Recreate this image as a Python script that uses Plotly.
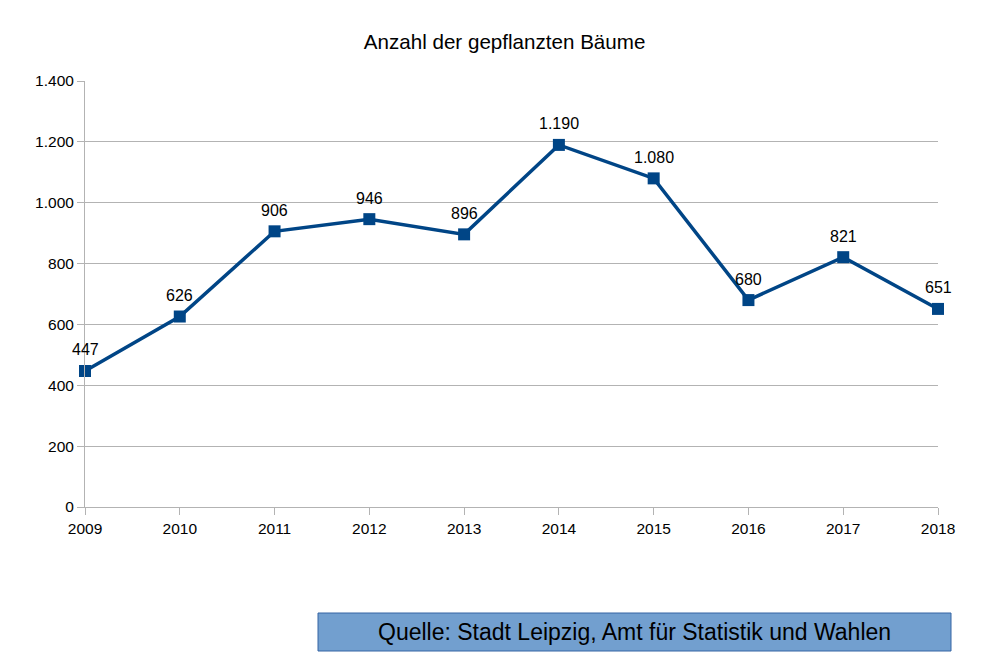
import plotly.graph_objects as go

years = [2009, 2010, 2011, 2012, 2013, 2014, 2015, 2016, 2017, 2018]
trees = [447, 626, 906, 946, 896, 1190, 1080, 680, 821, 651]
title = "Anzahl der gepflanzten Bäume"
source = "Quelle: Stadt Leipzig, Amt für Statistik und Wahlen"

FONT = "Liberation Sans, Arial, sans-serif"
COLOR = "#004586"

fig = go.Figure()
fig.add_trace(go.Scatter(
    x=years, y=trees, mode="lines+markers",
    line=dict(color=COLOR, width=3.5),
    marker=dict(symbol="square", size=12, color=COLOR),
    cliponaxis=False, showlegend=False,
))

for xv, yv in zip(years, trees):
    fig.add_annotation(x=xv, y=yv, text=f"{yv:,}".replace(",", "."),
                       showarrow=False, yshift=21, yanchor="middle",
                       font=dict(family=FONT, size=16, color="#000000"))

OFF = 8
L, R, T, B = 85 - OFF, 938 - OFF, 81 - OFF, 507 - OFF
W, H = 999, 667
pw, ph = R - L, B - T

def px(x):
    return (x - OFF - L) / pw

def py(y):
    return (B - (y - OFF)) / ph

fig.add_shape(type="rect", xref="paper", yref="paper",
              x0=px(318), x1=px(951), y0=py(651), y1=py(613),
              fillcolor="#729fcf", line=dict(color="#3465a4", width=1))
fig.add_annotation(xref="paper", yref="paper", x=px(634.5), y=py(632),
                   text=source, showarrow=False,
                   font=dict(family=FONT, size=23, color="#000000"),
                   xanchor="center", yanchor="middle")

fig.update_layout(
    width=W, height=H,
    margin=dict(l=L, r=W - R, t=T, b=H - B),
    paper_bgcolor="white", plot_bgcolor="white",
    separators=",.",
    title=dict(text=title, x=px(509), xanchor="center", y=1 - (42 - OFF) / H, yanchor="middle",
               font=dict(family=FONT, size=20.6, color="#000000")),
    font=dict(family=FONT, size=15, color="#000000"),
    xaxis=dict(range=[2009, 2018], tickvals=years, ticktext=[str(y) for y in years],
               showgrid=False, showline=True, linecolor="#b3b3b3", linewidth=1,
               ticks="outside", ticklen=7, tickcolor="#b3b3b3", zeroline=False,
               tickfont=dict(family=FONT, size=15.5, color="#000000")),
    yaxis=dict(range=[0, 1400], dtick=200, tickformat=",d",
               showgrid=True, gridcolor="#b3b3b3", gridwidth=1,
               showline=True, linecolor="#b3b3b3", linewidth=1,
               ticks="outside", ticklen=7, tickcolor="#b3b3b3", zeroline=False,
               tickfont=dict(family=FONT, size=15.5, color="#000000")),
)

fig.write_html("out.html")
